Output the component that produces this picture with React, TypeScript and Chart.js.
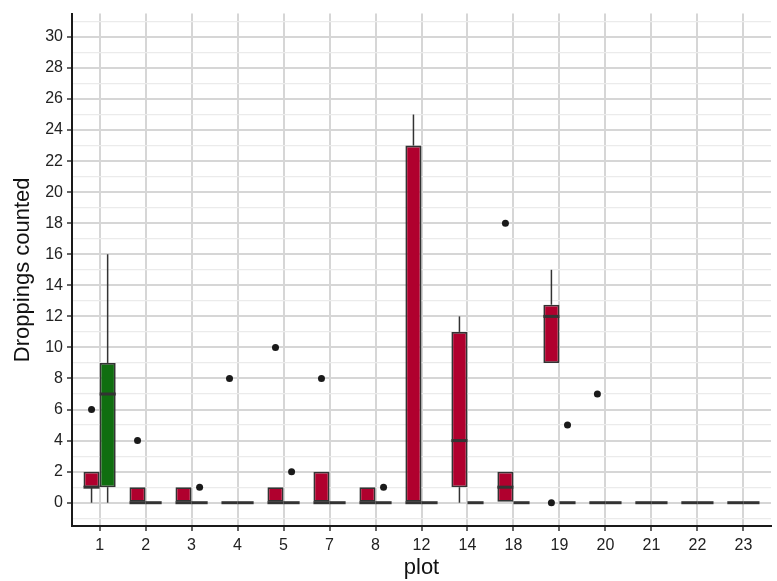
import React, { useEffect, useRef } from 'react';
import { Chart, registerables } from 'chart.js';

Chart.register(...registerables);

// Categories (plot numbers)
const categories = ['1', '2', '3', '4', '5', '7', '8', '12', '14', '18', '19', '20', '21', '22', '23'];

// Red group box statistics
const redLow = [0, 0, 0, 0, 0, 0, 0, 0, 0, 0, 9, 0, 0, 0, 0];
const redQ1 = [1, 0, 0, 0, 0, 0, 0, 0, 1, 0, 9, 0, 0, 0, 0];
const redMedian = [1, 0, 0, 0, 0, 0, 0, 0, 4, 1, 12, 0, 0, 0, 0];
const redQ3 = [2, 1, 1, 0, 1, 2, 1, 23, 11, 2, 12.75, 0, 0, 0, 0];
const redHigh = [2, 1, 1, 0, 1, 2, 1, 25, 12, 2, 15, 0, 0, 0, 0];
const redOutliers = [[6], [4], [], [8], [10], [8], [], [], [], [18], [0], [7], [], [], []];

// Green group box statistics
const greenLow = [0, 0, 0, 0, 0, 0, 0, 0, 0, 0, 0, 0, 0, 0, 0];
const greenQ1 = [1, 0, 0, 0, 0, 0, 0, 0, 0, 0, 0, 0, 0, 0, 0];
const greenMedian = [7, 0, 0, 0, 0, 0, 0, 0, 0, 0, 0, 0, 0, 0, 0];
const greenQ3 = [9, 0, 0, 0, 0, 0, 0, 0, 0, 0, 0, 0, 0, 0, 0];
const greenHigh = [16, 0, 0, 0, 0, 0, 0, 0, 0, 0, 0, 0, 0, 0, 0];
const greenOutliers = [[], [], [1], [], [2], [], [1], [], [], [], [5], [], [], [], []];

// Y axis ticks
const yMajorTicks = [0, 2, 4, 6, 8, 10, 12, 14, 16, 18, 20, 22, 24, 26, 28, 30];
const yMinorTicks = [-1, 1, 3, 5, 7, 9, 11, 13, 15, 17, 19, 21, 23, 25, 27, 29, 31];

const RED = '#B0002E';
const GREEN = '#106E10';
const LINE = '#333333';
const CAT_PCT = 0.7;
const DODGE = CAT_PCT / 4;

const groups = [
  { low: redLow, q1: redQ1, med: redMedian, q3: redQ3, high: redHigh, out: redOutliers },
  { low: greenLow, q1: greenQ1, med: greenMedian, q3: greenQ3, high: greenHigh, out: greenOutliers },
];

export default function App() {
  const ref = useRef<HTMLCanvasElement>(null);

  useEffect(() => {
    const canvas = ref.current;
    if (!canvas) return;
    Chart.defaults.font.family = "'Liberation Sans', Arial, sans-serif";

    const boxParts = {
      id: 'boxParts',
      beforeDatasetsDraw(chart: any) {
        const ctx = chart.ctx;
        const yS = chart.scales.y;
        ctx.save();
        ctx.strokeStyle = LINE;
        ctx.lineWidth = 1.5;
        groups.forEach((g, d) => {
          const meta = chart.getDatasetMeta(d);
          meta.data.forEach((el: any, i: number) => {
            const x = el.x;
            if (g.low[i] < g.q1[i]) {
              ctx.beginPath();
              ctx.moveTo(x, yS.getPixelForValue(g.low[i]));
              ctx.lineTo(x, yS.getPixelForValue(g.q1[i]));
              ctx.stroke();
            }
            if (g.high[i] > g.q3[i]) {
              ctx.beginPath();
              ctx.moveTo(x, yS.getPixelForValue(g.q3[i]));
              ctx.lineTo(x, yS.getPixelForValue(g.high[i]));
              ctx.stroke();
            }
          });
        });
        ctx.restore();
      },
      afterDatasetsDraw(chart: any) {
        const ctx = chart.ctx;
        const yS = chart.scales.y;
        ctx.save();
        ctx.strokeStyle = LINE;
        ctx.lineWidth = 3;
        ctx.lineCap = 'butt';
        groups.forEach((g, d) => {
          const meta = chart.getDatasetMeta(d);
          meta.data.forEach((el: any, i: number) => {
            const x = el.x;
            const w = el.width;
            const y = yS.getPixelForValue(g.med[i]);
            ctx.beginPath();
            ctx.moveTo(x - w / 2, y);
            ctx.lineTo(x + w / 2, y);
            ctx.stroke();
          });
        });
        ctx.restore();
      },
    };

    const outlierData = (out: number[][], shift: number) =>
      out.flatMap((vals, i) => vals.map((v) => ({ x: i + shift, y: v })));

    const chart = new Chart(canvas, {
      type: 'bar',
      data: {
        datasets: [
          {
            type: 'bar',
            data: categories.map((_, i) => ({ x: i, y: [redQ1[i], redQ3[i]] })) as any,
            backgroundColor: RED,
            borderColor: LINE,
            borderWidth: 1.8,
            borderSkipped: false,
            categoryPercentage: CAT_PCT,
            barPercentage: 1,
          },
          {
            type: 'bar',
            data: categories.map((_, i) => ({ x: i, y: [greenQ1[i], greenQ3[i]] })) as any,
            backgroundColor: GREEN,
            borderColor: LINE,
            borderWidth: 1.8,
            borderSkipped: false,
            categoryPercentage: CAT_PCT,
            barPercentage: 1,
          },
          {
            type: 'scatter',
            data: outlierData(redOutliers, -DODGE) as any,
            pointRadius: 3.5,
            pointBackgroundColor: '#1a1a1a',
            pointBorderWidth: 0,
          } as any,
          {
            type: 'scatter',
            data: outlierData(greenOutliers, DODGE) as any,
            pointRadius: 3.5,
            pointBackgroundColor: '#1a1a1a',
            pointBorderWidth: 0,
          } as any,
        ],
      },
      options: {
        animation: false,
        responsive: false,
        devicePixelRatio: 1,
        layout: { padding: { top: 9, right: 6, left: 0, bottom: 0 } },
        plugins: { legend: { display: false }, tooltip: { enabled: false } },
        scales: {
          x: {
            type: 'linear',
            offset: false,
            min: -0.6,
            max: categories.length - 1 + 0.6,
            afterBuildTicks: (axis: any) => {
              axis.ticks = categories.map((_, i) => ({ value: i }));
            },
            afterFit: (scale: any) => {
              scale.height = 55;
            },
            grid: {
              offset: false,
              color: '#D6D6D6',
              lineWidth: 2,
              drawTicks: true,
              tickLength: 5,
              tickColor: LINE,
              tickWidth: 1.5,
            },
            border: { display: true, color: '#1a1a1a', width: 2 },
            ticks: {
              autoSkip: false,
              maxRotation: 0,
              padding: 5,
              color: '#222',
              font: { size: 16 },
              callback: (v: any) => categories[Number(v)] ?? '',
            },
            title: {
              display: true,
              text: 'plot',
              color: '#111',
              font: { size: 22 },
              padding: { top: 0, bottom: 0 },
            },
          },
          y: {
            type: 'linear',
            min: -1.5,
            max: 31.5,
            afterBuildTicks: (axis: any) => {
              axis.ticks = [...yMinorTicks, ...yMajorTicks].sort((a, b) => a - b).map((v) => ({ value: v }));
            },
            afterFit: (scale: any) => {
              scale.width = 72;
            },
            grid: {
              color: (c: any) => (yMajorTicks.includes(c.tick?.value) ? '#D6D6D6' : '#EBEBEB'),
              lineWidth: (c: any) => (yMajorTicks.includes(c.tick?.value) ? 2 : 1.2),
              drawTicks: true,
              tickLength: 5,
              tickColor: (c: any) => (yMajorTicks.includes(c.tick?.value) ? LINE : 'rgba(0,0,0,0)'),
              tickWidth: 1.5,
            },
            border: { display: true, color: '#1a1a1a', width: 2 },
            ticks: {
              autoSkip: false,
              padding: 4,
              color: '#222',
              font: { size: 16 },
              callback: (v: any) => (yMajorTicks.includes(Number(v)) ? String(v) : ''),
            },
            title: {
              display: true,
              text: 'Droppings counted',
              color: '#111',
              font: { size: 22 },
              padding: { top: 10, bottom: 0 },
            },
          },
        },
      },
      plugins: [boxParts],
    } as any);

    return () => chart.destroy();
  }, []);

  return (
    <canvas
      ref={ref}
      width={777}
      height={581}
      style={{ position: 'absolute', left: 0, top: 0, width: 777, height: 581, display: 'block' }}
    />
  );
}
